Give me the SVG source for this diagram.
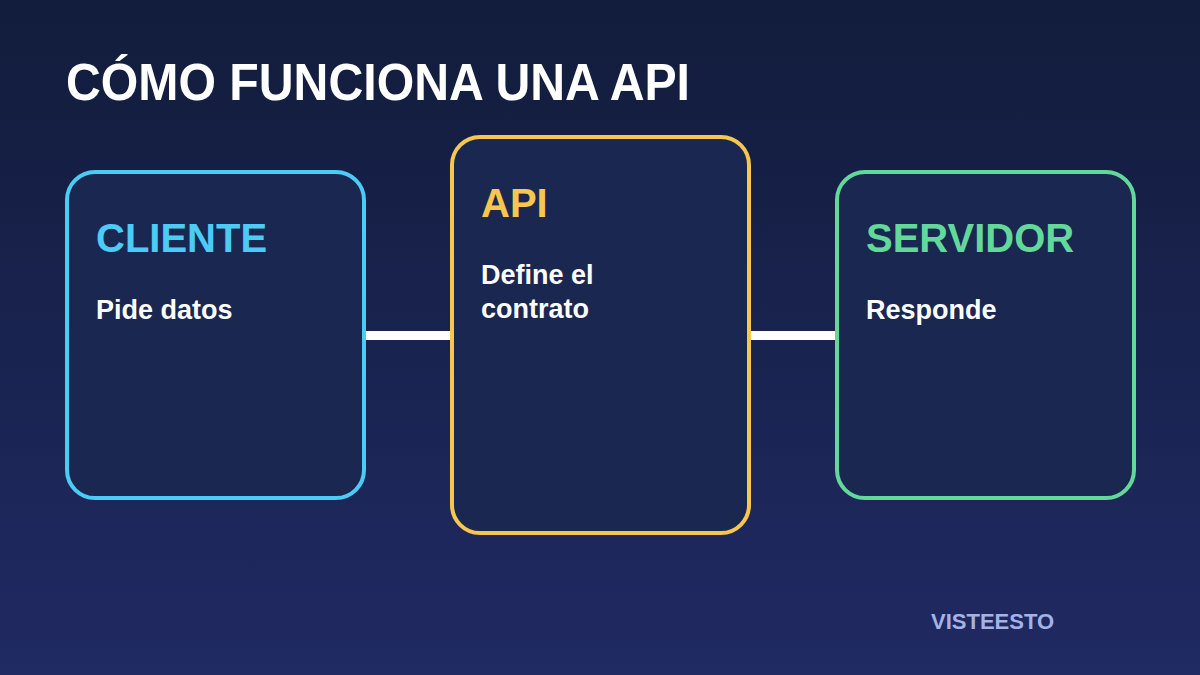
<svg xmlns="http://www.w3.org/2000/svg" width="1200" height="675" viewBox="0 0 1200 675">
<defs>
<linearGradient id="bg" x1="0" y1="0" x2="0" y2="1">
<stop offset="0" stop-color="#121c3b"/>
<stop offset="1" stop-color="#202a63"/>
</linearGradient>
<style>
text{font-family:"Liberation Sans",Arial,sans-serif;font-weight:bold}
.box{fill:#1a2750;stroke-width:4}
.h{font-size:40px}
.d{font-size:27px;fill:#ffffff}
.conn{stroke:#ffffff;stroke-width:9;fill:none}
</style>
</defs>
<rect width="1200" height="675" fill="url(#bg)"/>
<text x="66" y="100" font-size="51" fill="#ffffff" textLength="624" lengthAdjust="spacingAndGlyphs">CÓMO FUNCIONA UNA API</text>
<g id="connectors">
<line class="conn" x1="366" y1="335.500" x2="450" y2="335.500"/>
<line class="conn" x1="751" y1="335.500" x2="835" y2="335.500"/>
</g>
<g id="cliente">
<rect class="box" x="67" y="172" width="297" height="326" rx="28" stroke="#4ccbf5"/>
<text class="h" x="96" y="252" fill="#4ccbf5">CLIENTE</text>
<text class="d" x="96" y="319">Pide datos</text>
</g>
<g id="api">
<rect class="box" x="452" y="137" width="297" height="396" rx="28" stroke="#f7c64e"/>
<text class="h" x="481" y="217" fill="#f7c64e">API</text>
<text class="d" x="481" y="284">Define el</text>
<text class="d" x="481" y="318">contrato</text>
</g>
<g id="servidor">
<rect class="box" x="837" y="172" width="297" height="326" rx="28" stroke="#62d99b"/>
<text class="h" x="866" y="252" fill="#62d99b">SERVIDOR</text>
<text class="d" x="866" y="319">Responde</text>
</g>
<text x="931" y="629" font-size="22" fill="#a3b3e6">VISTEESTO</text>
</svg>
